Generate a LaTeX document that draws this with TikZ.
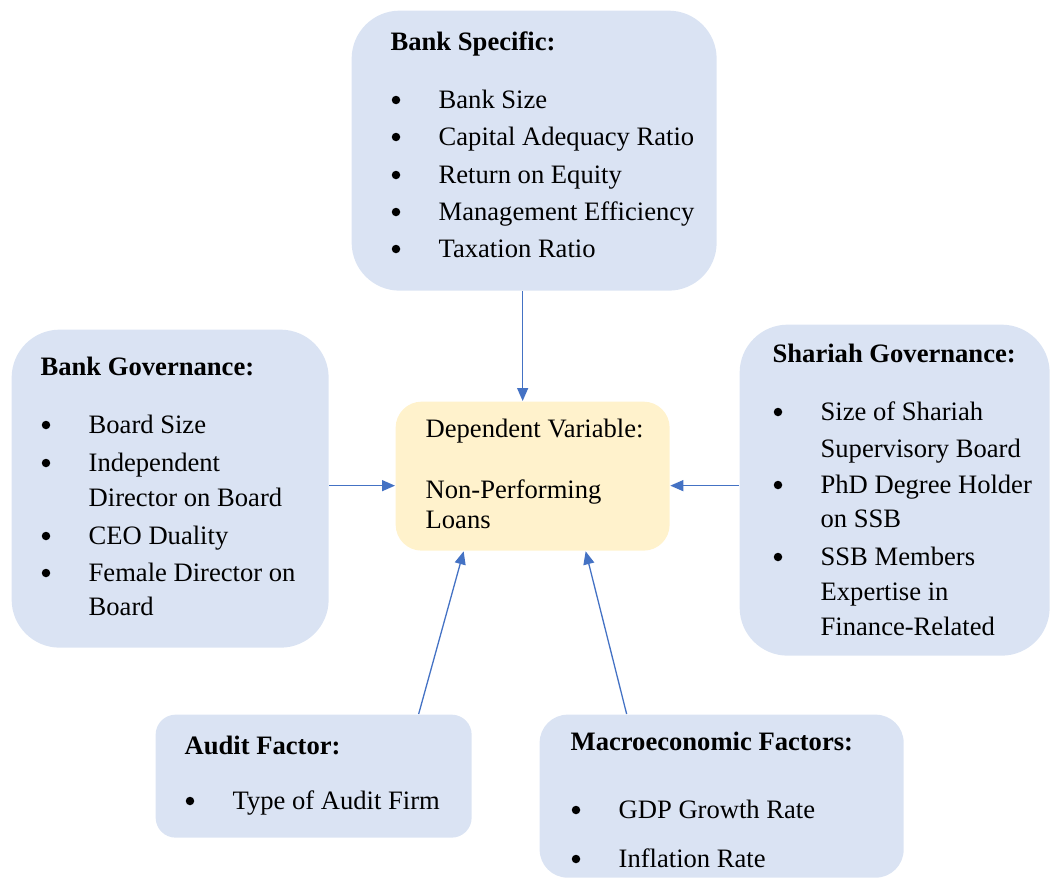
\documentclass[tikz,border=0pt]{standalone}
\usepackage{fontspec}
\setmainfont{Liberation Serif}
\usetikzlibrary{arrows.meta, positioning}

\definecolor{boxblue}{HTML}{DAE3F3}
\definecolor{boxyellow}{HTML}{FFF2CC}
\definecolor{arrowblue}{HTML}{4472C4}

\begin{document}
\begin{tikzpicture}[
            x = 1pt, y = -1pt, % one unit is one pixel, y down
            > = {Triangle[length=13pt, width=11pt]}, % arrow head style
            line width = 1.3pt
        ]

        \tikzstyle{factor}=[
            fill = boxblue,
            anchor = north west,
            inner sep = 0pt,
            rounded corners = 48pt
        ]
        \tikzstyle{txt}=[
            anchor = base west,
            inner sep = 0pt,
            font = \fontsize{26.6}{30}\selectfont
        ]
        \tikzstyle{title}=[txt, font = \fontsize{26.6}{30}\selectfont\bfseries]
        \tikzstyle{dot}=[circle, fill = black, inner sep = 0pt, minimum size = 8.5pt]
        \tikzstyle{link}=[->, draw = arrowblue, line width = 1.3pt]

        \useasboundingbox (0,0) rectangle (1050,878);

        % boxes
        \node[factor, minimum width=365pt, minimum height=280pt] (spec) at (351,10) {};
        \node[factor, minimum width=317pt, minimum height=318pt] (gov) at (11,329) {};
        \node[factor, minimum width=310pt, minimum height=331pt] (sha) at (739,324) {};
        \node[factor, minimum width=316pt, minimum height=123pt, rounded corners=20pt] (audit) at (155,714) {};
        \node[factor, minimum width=364pt, minimum height=163pt, rounded corners=28pt] (macro) at (539,714) {};
        \node[factor, fill=boxyellow, minimum width=274pt, minimum height=149pt, rounded corners=26pt] (dep) at (395,401) {};

        % bank specific
        \node[title] (spec-t) at (390,50) {Bank Specific:};
        \foreach \y/\t [count=\i] in {108/Bank Size, 145/Capital Adequacy Ratio,
            183/Return on Equity, 220/Management Efficiency, 257/Taxation Ratio} {
            \node[dot] (spec-b\i) at (396,\y-8) {};
            \node[txt] (spec-\i) at (438,\y) {\t};
        }

        % bank governance
        \node[title] (gov-t) at (40,375) {Bank Governance:};
        \foreach \y/\t [count=\i] in {433/Board Size, 471/Independent, 544/CEO Duality, 581/Female Director on} {
            \node[dot] (gov-b\i) at (46,\y-8) {};
            \node[txt] (gov-\i) at (88,\y) {\t};
        }
        \node[txt] (gov-2b) at (88,506) {Director on Board};
        \node[txt] (gov-4b) at (88,615) {Board};

        % shariah governance
        \node[title] (sha-t) at (772,362) {Shariah Governance:};
        \foreach \y/\t [count=\i] in {420/Size of Shariah, 493/PhD Degree Holder, 565/SSB Members} {
            \node[dot] (sha-b\i) at (778,\y-8) {};
            \node[txt] (sha-\i) at (820,\y) {\t};
        }
        \node[txt] (sha-1b) at (820,457) {Supervisory Board};
        \node[txt] (sha-2b) at (820,527) {on SSB};
        \node[txt] (sha-3b) at (820,600) {Expertise in};
        \node[txt] (sha-3c) at (820,635) {Finance-Related};

        % audit
        \node[title] (audit-t) at (184,754) {Audit Factor:};
        \node[dot] (audit-b1) at (190,801) {};
        \node[txt] (audit-1) at (232,809) {Type of Audit Firm};

        % macroeconomic
        \node[title] (macro-t) at (570,750) {Macroeconomic Factors:};
        \node[dot] (macro-b1) at (576,810) {};
        \node[txt] (macro-1) at (618,818) {GDP Growth Rate};
        \node[dot] (macro-b2) at (576,859) {};
        \node[txt] (macro-2) at (618,867) {Inflation Rate};

        % dependent variable
        \node[txt] (dep-t) at (425,437) {Dependent Variable:};
        \node[txt] (dep-1) at (425,498) {Non-Performing};
        \node[txt] (dep-2) at (425,528) {Loans};

        % arrows
        \draw[link] ([xshift=-11.5pt]spec.south) -- ([xshift=-10pt]dep.north);
        \draw[link] ([yshift=3pt]gov.east) -- ([yshift=-9.5pt]dep.west);
        \draw[link] ([yshift=4.5pt]sha.west) -- ([yshift=-9.5pt]dep.east);
        \draw[link] ([xshift=105pt]audit.north) -- ([xshift=-69pt]dep.south);
        \draw[link] ([xshift=-95pt]macro.north) -- ([xshift=53pt]dep.south);
     \end{tikzpicture}
\end{document}
